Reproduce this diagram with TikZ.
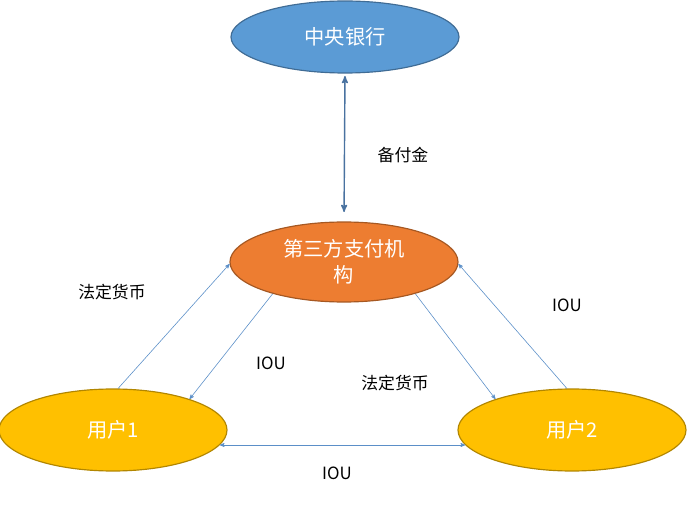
\documentclass[tikz,border=0pt]{standalone}
\usepackage{fontspec}
\setmainfont{Noto Sans CJK SC}
\usetikzlibrary{arrows,shapes.geometric}
\definecolor{bankblue}{HTML}{5B9BD5}
\definecolor{payorange}{HTML}{ED7D31}
\definecolor{usergold}{HTML}{FFC000}
\definecolor{linkblue}{HTML}{5B8FC8}
\begin{document}
\begin{tikzpicture}[x=0.03cm,y=-0.03cm,>=stealth',
    party/.style={ellipse,draw=#1!70!black,fill=#1,line width=1pt,text=white,font=\LARGE,inner sep=0pt},
    flow/.style={->,draw=linkblue,line width=0.5pt},
    tag/.style={font=\Large}]
    \useasboundingbox (0,0) rectangle (687,507);
    \node[party=bankblue,minimum width=228*0.03cm,minimum height=72*0.03cm] (cb) at (345,37) {中央银行};
    \node[party=payorange,minimum width=228*0.03cm,minimum height=80*0.03cm,align=center] (tp) at (344,262) {第三方支付机\\构};
    \node[party=usergold,minimum width=228*0.03cm,minimum height=82*0.03cm] (u1) at (113,430) {用户1};
    \node[party=usergold,minimum width=228*0.03cm,minimum height=82*0.03cm] (u2) at (572,430) {用户2};

    \draw[<->,draw=linkblue!80!black,line width=1.2pt,shorten <=2pt,shorten >=8pt] (cb.south) -- (tp.north);
    \node[tag] (bfj) at (403,155) {备付金};

    \draw[flow] (u1.83) -- (tp.181);
    \draw[flow] (tp.204) -- (u1.22);
    \draw[flow] (tp.336) -- (u2.158);
    \draw[flow] (u2.97) -- (tp.359);
    \draw[<->,draw=linkblue,line width=0.5pt] (u1.-8) -- (u2.188);

    \node[tag] (f1) at (112,292) {法定货币};
    \node[tag] (i1) at (271,363) {IOU};
    \node[tag] (f2) at (395,383) {法定货币};
    \node[tag] (i2) at (567,305) {IOU};
    \node[tag] (i3) at (337,473) {IOU};
\end{tikzpicture}
\end{document}
